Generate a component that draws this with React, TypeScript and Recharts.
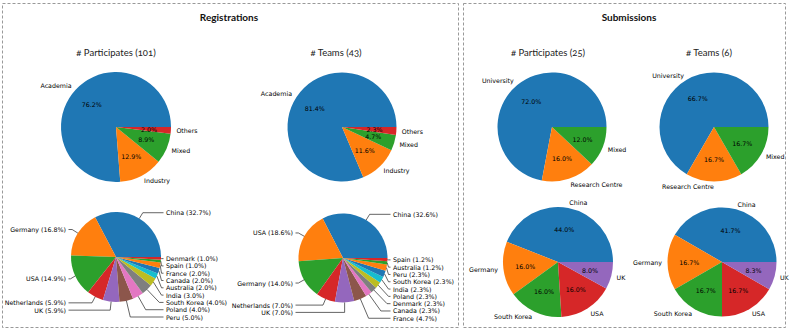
import { PieChart, Pie, Cell } from "recharts";

// tab10 palette, as in the matplotlib original
const COLORS = [
  "#1f77b4", "#ff7f0e", "#2ca02c", "#d62728", "#9467bd",
  "#8c564b", "#e377c2", "#7f7f7f", "#bcbd22", "#17becf",
];

// Registrations – affiliation
const regPartTypes = ["Academia", "Industry", "Mixed", "Others"];
const regPartTypeCounts = [77, 13, 9, 2];
const regTeamTypes = ["Academia", "Industry", "Mixed", "Others"];
const regTeamTypeCounts = [35, 5, 2, 1];

// Registrations – country
const regPartCountries = [
  "China", "Germany", "USA", "Netherlands", "UK", "Peru", "Poland",
  "South Korea", "India", "Australia", "Canada", "France", "Spain", "Denmark",
];
const regPartCountryCounts = [33, 17, 15, 6, 6, 5, 4, 4, 3, 2, 2, 2, 1, 1];
const regTeamCountries = [
  "China", "USA", "Germany", "Netherlands", "UK", "France", "Canada",
  "Denmark", "Poland", "India", "South Korea", "Peru", "Australia", "Spain",
];
const regTeamCountryCounts = [14, 8, 6, 3, 3, 2, 1, 1, 1, 1, 1, 1, 0.5, 0.5];

// Submissions
const subPartTypes = ["University", "Research Centre", "Mixed"];
const subPartTypeCounts = [18, 4, 3];
const subTeamTypes = ["University", "Research Centre", "Mixed"];
const subTeamTypeCounts = [4, 1, 1];
const subPartCountries = ["China", "Germany", "South Korea", "USA", "UK"];
const subPartCountryCounts = [11, 4, 4, 4, 2];
const subTeamCountries = ["China", "Germany", "South Korea", "USA", "UK"];
const subTeamCountryCounts = [2.5, 1, 1, 1, 0.5];

const W = 793;
const H = 334;
const RAD = Math.PI / 180;
const LABEL_FONT = "'DejaVu Sans', sans-serif";
const LABEL_SIZE = 6.3;
const GAP = 7.3;

const toRows = (names: string[], values: number[]) =>
  names.map((name, i) => ({ name, value: values[i] }));

const pct = (p: number) => `${(p * 100).toFixed(1)}%`;

// spread out the country labels on each side so they don't collide
function leaderLayout(values: number[], cy: number, r: number) {
  const total = values.reduce((a, b) => a + b, 0);
  let acc = 0;
  const items = values.map((v, i) => {
    const mid = ((acc + v / 2) / total) * 360;
    acc += v;
    return {
      i,
      right: Math.cos(mid * RAD) > 0.06,
      y: cy - 1.15 * r * Math.sin(mid * RAD),
    };
  });
  const out: { right: boolean; y: number }[] = [];
  [true, false].forEach((side) => {
    let last = -Infinity;
    items
      .filter((it) => it.right === side)
      .sort((a, b) => a.y - b.y)
      .forEach((it) => {
        const y = Math.max(it.y, last + GAP);
        out[it.i] = { right: side, y };
        last = y;
      });
  });
  return out;
}

const txt = { fontFamily: LABEL_FONT, fontSize: LABEL_SIZE, fill: "#000" };

const simpleLabel = (props: any) => {
  const { cx, cy, midAngle, outerRadius, percent, name } = props;
  const c = Math.cos(midAngle * RAD);
  const s = Math.sin(midAngle * RAD);
  return (
    <g>
      <text
        x={cx + outerRadius * 1.1 * c}
        y={cy - outerRadius * 1.1 * s}
        textAnchor={c > 0 ? "start" : "end"}
        dominantBaseline="central"
        style={txt}
      >
        {name}
      </text>
      <text
        x={cx + outerRadius * 0.6 * c}
        y={cy - outerRadius * 0.6 * s}
        textAnchor="middle"
        dominantBaseline="central"
        style={txt}
      >
        {pct(percent)}
      </text>
    </g>
  );
};

const leaderLabel = (layout: { right: boolean; y: number }[]) => (props: any) => {
  const { cx, cy, midAngle, outerRadius, percent, name, index } = props;
  const L = layout[index];
  const c = Math.cos(midAngle * RAD);
  const s = Math.sin(midAngle * RAD);
  const ex = cx + outerRadius * c;
  const ey = cy - outerRadius * s;
  const dir = L.right ? 1 : -1;
  const lineEnd = cx + dir * 47.5;
  let elbowX = ex;
  if (Math.abs(s) > 0.02) elbowX = ex + ((L.y - ey) / -s) * c;
  if (L.right) elbowX = Math.min(Math.max(elbowX, ex), lineEnd - 2);
  else elbowX = Math.max(Math.min(elbowX, ex), lineEnd + 2);
  return (
    <g>
      <polyline
        points={`${ex},${ey} ${elbowX},${L.y} ${lineEnd},${L.y}`}
        style={{ fill: "none", stroke: "#222", strokeWidth: 0.7 }}
      />
      <text
        x={cx + dir * 50}
        y={L.y}
        textAnchor={L.right ? "start" : "end"}
        dominantBaseline="central"
        style={txt}
      >
        {`${name} (${pct(percent)})`}
      </text>
    </g>
  );
};

const pies = [
  { key: "rpt", rows: toRows(regPartTypes, regPartTypeCounts), cx: 116, cy: 127, r: 55, lead: false },
  { key: "rtt", rows: toRows(regTeamTypes, regTeamTypeCounts), cx: 342, cy: 127, r: 54.5, lead: false },
  { key: "rpc", rows: toRows(regPartCountries, regPartCountryCounts), cx: 116, cy: 257, r: 45, lead: true },
  { key: "rtc", rows: toRows(regTeamCountries, regTeamCountryCounts), cx: 343, cy: 258, r: 44.5, lead: true },
  { key: "spt", rows: toRows(subPartTypes, subPartTypeCounts), cx: 552, cy: 127, r: 54.5, lead: false },
  { key: "stt", rows: toRows(subTeamTypes, subTeamTypeCounts), cx: 714, cy: 127, r: 54.5, lead: false },
  { key: "spc", rows: toRows(subPartCountries, subPartCountryCounts), cx: 558, cy: 262, r: 55, lead: false },
  { key: "stc", rows: toRows(subTeamCountries, subTeamCountryCounts), cx: 722, cy: 262, r: 54.5, lead: false },
];

const titles = [
  { text: "# Participates (101)", x: 116, y: 52 },
  { text: "# Teams (43)", x: 336, y: 52 },
  { text: "# Participates (25)", x: 548, y: 52 },
  { text: "# Teams (6)", x: 709, y: 52 },
];

const TITLE_FONT = "Lato, 'Open Sans', sans-serif";

export default function App() {
  return (
    <div style={{ position: "absolute", left: 0, top: 0, width: W, height: H, background: "#fff" }}>
      <PieChart width={W} height={H} margin={{ top: 0, right: 0, bottom: 0, left: 0 }}>
        {pies.map((p) => (
          <Pie
            key={p.key}
            data={p.rows}
            dataKey="value"
            nameKey="name"
            cx={p.cx}
            cy={p.cy}
            outerRadius={p.r}
            startAngle={0}
            endAngle={360}
            stroke="none"
            isAnimationActive={false}
            labelLine={false}
            label={p.lead ? leaderLabel(leaderLayout(p.rows.map((d) => d.value), p.cy, p.r)) : simpleLabel}
          >
            {p.rows.map((d, i) => (
              <Cell key={d.name} fill={COLORS[i % COLORS.length]} />
            ))}
          </Pie>
        ))}
      </PieChart>
      <svg
        width={W}
        height={H}
        style={{ position: "absolute", left: 0, top: 0, pointerEvents: "none" }}
      >
        <rect x={2.5} y={3.5} width={456} height={324} fill="none" stroke="#999" strokeDasharray="3 2" />
        <rect x={463.5} y={3.5} width={322} height={324} fill="none" stroke="#999" strokeDasharray="3 2" />
        <text x={229} y={17} textAnchor="middle" dominantBaseline="central" fontFamily={TITLE_FONT} fontWeight="bold" fontSize={10} fill="#111">
          Registrations
        </text>
        <text x={629} y={17} textAnchor="middle" dominantBaseline="central" fontFamily={TITLE_FONT} fontWeight="bold" fontSize={10} fill="#111">
          Submissions
        </text>
        {titles.map((t) => (
          <text
            key={t.text}
            x={t.x}
            y={t.y}
            textAnchor="middle"
            dominantBaseline="central"
            fontFamily={TITLE_FONT}
            fontSize={9.5}
            fill="#222"
            style={{ fontVariantNumeric: "oldstyle-nums" }}
          >
            {t.text}
          </text>
        ))}
      </svg>
    </div>
  );
}
